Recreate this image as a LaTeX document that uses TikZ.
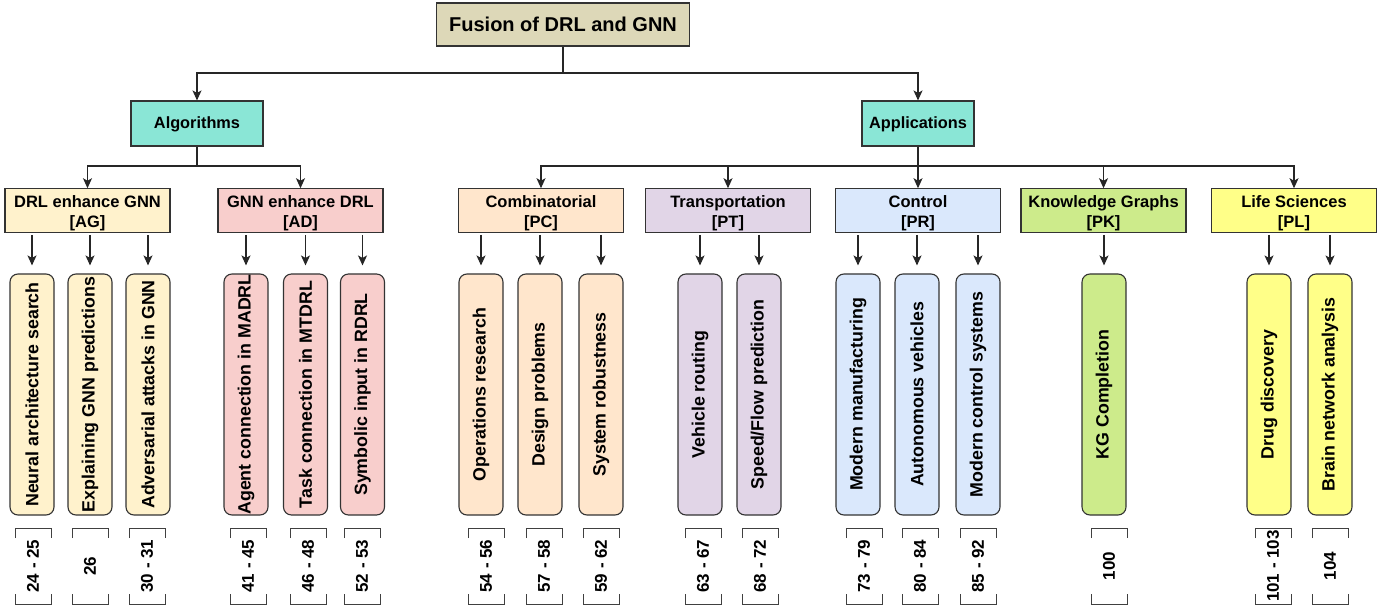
\documentclass[tikz,border=0pt]{standalone}
\usepackage{fontspec}
\setmainfont{Liberation Sans}
\usepackage{xcolor}
\usepackage{tikz}
\usetikzlibrary{positioning, calc, arrows.meta}
\definecolor{rootfill}{RGB}{221,216,184}
\definecolor{mainfill}{RGB}{138,230,214}
\definecolor{agfill}{RGB}{255,242,204}
\definecolor{adfill}{RGB}{248,206,204}
\definecolor{pcfill}{RGB}{255,230,204}
\definecolor{ptfill}{RGB}{225,213,231}
\definecolor{prfill}{RGB}{218,232,252}
\definecolor{pkfill}{RGB}{205,235,139}
\definecolor{plfill}{RGB}{255,255,136}
\newcommand{\catlabel}[2]{\rule{0pt}{18pt}#1\\{}[#2]}

\tikzset{
	boxline/.style={draw=black!80, line width=1.1pt},
	rootbox/.style={boxline, fill=rootfill, minimum width=253pt, minimum height=43pt, font=\bfseries\fontsize{20}{24}\selectfont},
	mainbox/.style={boxline, fill=mainfill, minimum height=45pt, text depth=2pt, font=\bfseries\fontsize{16.3}{20}\selectfont},
	catbox/.style={boxline, minimum width=165pt, minimum height=43pt, align=center, inner sep=1pt, font=\bfseries\fontsize{16.5}{20}\selectfont},
	leafbox/.style={boxline, rounded corners=8pt, rotate=90, minimum width=241pt, minimum height=44pt, inner sep=0pt, font=\bfseries\fontsize{17.8}{21}\selectfont},
	refnum/.style={rotate=90, inner sep=0pt, font=\bfseries\fontsize{17}{20}\selectfont},
	bracket/.style={draw=black!75, line width=1pt},
	link/.style={draw=black!85, line width=1.2pt},
	arr/.style={link, -{Stealth[length=10pt, width=9pt, inset=2.5pt]}},
	leafarr/.style={arr, shorten <=2pt, shorten >=8pt}
}

\begin{document}
\begin{tikzpicture}[x=1pt, y=-1pt]
		\useasboundingbox (0,0) rectangle (1391,609);
		
		\node[rootbox] (root) at (563,24.5) {Fusion of DRL and GNN};
		\node[mainbox, minimum width=132pt] (alg) at (197,123.5) {Algorithms};
		\node[mainbox, minimum width=112pt] (app) at (918,123.5) {Applications};
		
		\node[catbox, fill=agfill] (ag) at (87.5,210.5) {\catlabel{DRL enhance GNN}{AG}};
		\node[catbox, fill=adfill] (ad) at (300.5,210.5) {\catlabel{GNN enhance DRL}{AD}};
		\node[catbox, fill=pcfill] (pc) at (541,210.5) {\catlabel{Combinatorial}{PC}};
		\node[catbox, fill=ptfill] (pt) at (728,210.5) {\catlabel{Transportation}{PT}};
		\node[catbox, fill=prfill] (pr) at (918,210.5) {\catlabel{Control}{PR}};
		\node[catbox, fill=pkfill] (pk) at (1103.5,210.5) {\catlabel{Knowledge Graphs}{PK}};
		\node[catbox, fill=plfill] (pl) at (1294,210.5) {\catlabel{Life Sciences}{PL}};
		
		% leaves
		\node[leafbox, fill=agfill] (l1) at (32,394.5) {Neural architecture search};
		\node[leafbox, fill=agfill] (l2) at (90,394.5) {Explaining GNN predictions};
		\node[leafbox, fill=agfill] (l3) at (148,394.5) {Adversarial attacks in GNN};
		\node[leafbox, fill=adfill] (l4) at (246,394.5) {Agent connection in MADRL};
		\node[leafbox, fill=adfill] (l5) at (305.5,394.5) {Task connection in MTDRL};
		\node[leafbox, fill=adfill] (l6) at (362.5,394.5) {Symbolic input in RDRL};
		\node[leafbox, fill=pcfill] (l7) at (481,394.5) {Operations research};
		\node[leafbox, fill=pcfill] (l8) at (540,394.5) {Design problems};
		\node[leafbox, fill=pcfill] (l9) at (601,394.5) {System robustness};
		\node[leafbox, fill=ptfill] (l10) at (700,394.5) {Vehicle routing};
		\node[leafbox, fill=ptfill] (l11) at (759,394.5) {Speed/Flow prediction};
		\node[leafbox, fill=prfill] (l12) at (858,394.5) {Modern manufacturing};
		\node[leafbox, fill=prfill] (l13) at (917,394.5) {Autonomous vehicles};
		\node[leafbox, fill=prfill] (l14) at (978,394.5) {Modern control systems};
		\node[leafbox, fill=pkfill] (l15) at (1104,394.5) {KG Completion};
		\node[leafbox, fill=plfill] (l16) at (1269,394.5) {Drug discovery};
		\node[leafbox, fill=plfill] (l17) at (1330,394.5) {Brain network analysis};
		
		% reference ranges
		\node[refnum] (r1) at (33,566) {24 - 25};
		\node[refnum] (r2) at (90,566) {26};
		\node[refnum] (r3) at (147,566) {30 - 31};
		\node[refnum] (r4) at (248,566) {41 - 45};
		\node[refnum] (r5) at (308,566) {46 - 48};
		\node[refnum] (r6) at (362,566) {52 - 53};
		\node[refnum] (r7) at (486,566) {54 - 56};
		\node[refnum] (r8) at (544,566) {57 - 58};
		\node[refnum] (r9) at (601,566) {59 - 62};
		\node[refnum] (r10) at (703,566) {63 - 67};
		\node[refnum] (r11) at (760,566) {68 - 72};
		\node[refnum] (r12) at (864,566) {73 - 79};
		\node[refnum] (r13) at (920,566) {80 - 84};
		\node[refnum] (r14) at (978,566) {85 - 92};
		\node[refnum] (r15) at (1109,566) {100};
		\node[refnum] (r16) at (1273,566) {101 - 103};
		\node[refnum] (r17) at (1330,566) {104};
		\foreach \i in {1,...,17}{
			\draw[bracket] ($(r\i)+(-18,-28)$) -- ++(0,-10) -- ++(36,0) -- ++(0,10);
			\draw[bracket] ($(r\i)+(-18,28)$) -- ++(0,10) -- ++(36,0) -- ++(0,-10);
		}
		
		% tree
		\coordinate (rootbus) at (root.south |- 0,73);
		\draw[link] (root.south) -- (rootbus);
		\draw[arr] (rootbus) -| (alg.north);
		\draw[arr] (rootbus) -| (app.north);
		
		\coordinate (algbus) at (alg.south |- 0,166);
		\draw[link] (alg.south) -- (algbus);
		\foreach \c in {ag,ad}
			\draw[arr] (algbus) -| (\c.north);
		
		\coordinate (appbus) at (app.south |- 0,166);
		\draw[link] (app.south) -- (appbus);
		\foreach \c in {pc,pt,pr,pk,pl}
			\draw[arr] (appbus) -| (\c.north);
		
		\foreach \c/\l in {ag/l1,ag/l2,ag/l3,ad/l4,ad/l5,ad/l6,pc/l7,pc/l8,pc/l9,pt/l10,pt/l11,pr/l12,pr/l13,pr/l14,pk/l15,pl/l16,pl/l17}
			\draw[leafarr] (\c.south -| \l) -- (\l.east);
		
\end{tikzpicture}
\end{document}
